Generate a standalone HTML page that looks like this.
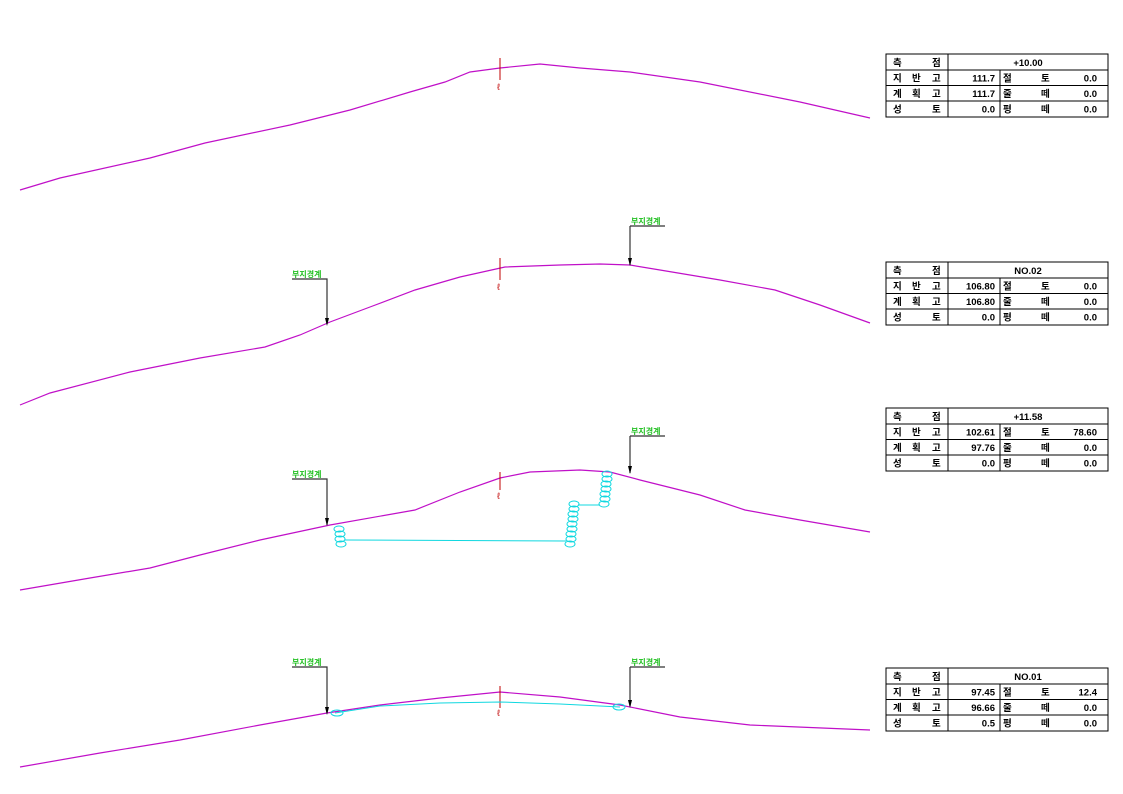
<!DOCTYPE html>
<html><head><meta charset="utf-8"><style>
html,body{margin:0;padding:0;background:#fff}
svg{display:block}
text{font-family:"Liberation Sans","Noto Sans CJK KR",sans-serif}
.t{font-size:9.5px;fill:#000;font-weight:bold}
.g{font-size:8px;fill:#22c022;font-weight:bold}
</style></head><body>
<svg width="1123" height="794" viewBox="0 0 1123 794" xmlns="http://www.w3.org/2000/svg">
<defs>
<g id="tbl">
<rect x="886" y="0" width="222" height="63" fill="#fff" stroke="#000" stroke-width="1"/>
<line x1="886" y1="16" x2="1108" y2="16" stroke="#000"/>
<line x1="886" y1="31.5" x2="1108" y2="31.5" stroke="#000"/>
<line x1="886" y1="47" x2="1108" y2="47" stroke="#000"/>
<line x1="948" y1="0" x2="948" y2="63" stroke="#000"/>
<line x1="1000" y1="16" x2="1000" y2="63" stroke="#000"/>
<text class="t" x="893" y="12">측</text><text class="t" x="932" y="12">점</text>
<text class="t" x="893" y="27.5">지</text><text class="t" x="912" y="27.5">반</text><text class="t" x="932" y="27.5">고</text>
<text class="t" x="893" y="43">계</text><text class="t" x="912" y="43">획</text><text class="t" x="932" y="43">고</text>
<text class="t" x="893" y="58.5">성</text><text class="t" x="932" y="58.5">토</text>
<text class="t" x="1003" y="27.5">절</text><text class="t" x="1041" y="27.5">토</text>
<text class="t" x="1003" y="43">줄</text><text class="t" x="1041" y="43">떼</text>
<text class="t" x="1003" y="58.5">평</text><text class="t" x="1041" y="58.5">떼</text>
</g>
</defs>
<g>
<use href="#tbl" y="54"/>
<text class="t" x="1028" y="66" text-anchor="middle">+10.00</text>
<text class="t" x="995" y="81.5" text-anchor="end">111.7</text><text class="t" x="1097" y="81.5" text-anchor="end">0.0</text>
<text class="t" x="995" y="97" text-anchor="end">111.7</text><text class="t" x="1097" y="97" text-anchor="end">0.0</text>
<text class="t" x="995" y="112.5" text-anchor="end">0.0</text><text class="t" x="1097" y="112.5" text-anchor="end">0.0</text>
</g>
<g>
<use href="#tbl" y="262"/>
<text class="t" x="1028" y="274" text-anchor="middle">NO.02</text>
<text class="t" x="995" y="289.5" text-anchor="end">106.80</text><text class="t" x="1097" y="289.5" text-anchor="end">0.0</text>
<text class="t" x="995" y="305" text-anchor="end">106.80</text><text class="t" x="1097" y="305" text-anchor="end">0.0</text>
<text class="t" x="995" y="320.5" text-anchor="end">0.0</text><text class="t" x="1097" y="320.5" text-anchor="end">0.0</text>
</g>
<g>
<use href="#tbl" y="408"/>
<text class="t" x="1028" y="420" text-anchor="middle">+11.58</text>
<text class="t" x="995" y="435.5" text-anchor="end">102.61</text><text class="t" x="1097" y="435.5" text-anchor="end">78.60</text>
<text class="t" x="995" y="451" text-anchor="end">97.76</text><text class="t" x="1097" y="451" text-anchor="end">0.0</text>
<text class="t" x="995" y="466.5" text-anchor="end">0.0</text><text class="t" x="1097" y="466.5" text-anchor="end">0.0</text>
</g>
<g>
<use href="#tbl" y="668"/>
<text class="t" x="1028" y="680" text-anchor="middle">NO.01</text>
<text class="t" x="995" y="695.5" text-anchor="end">97.45</text><text class="t" x="1097" y="695.5" text-anchor="end">12.4</text>
<text class="t" x="995" y="711" text-anchor="end">96.66</text><text class="t" x="1097" y="711" text-anchor="end">0.0</text>
<text class="t" x="995" y="726.5" text-anchor="end">0.5</text><text class="t" x="1097" y="726.5" text-anchor="end">0.0</text>
</g>

<g fill="none" stroke="#c010c8" stroke-width="1.2">
<polyline points="20,190 60,178 150,158 205,143 290,125 350,110 410,92 445,82 470,72 500,68 540,64 580,68 630,72 700,82 800,102 870,118"/>
<polyline points="20,405 50,393 130,372 200,358 265,347 300,335 330,322 370,307 415,290 460,277 505,267 560,265 600,264 630,265 660,270 720,280 775,290 820,305 870,323"/>
<polyline points="20,590 90,578 150,568 200,555 260,540 330,525 415,510 460,492 500,478 530,472 580,470 610,472 640,480 700,495 745,510 800,520 870,532"/>
<polyline points="20,767 100,753 180,740 260,725 327,713 380,705 440,698 500,692 560,697 620,705 680,717 750,725 870,730"/>
</g>

<g stroke="#c00000" stroke-width="1" fill="none">
<line x1="500" y1="58" x2="500" y2="80"/><text x="497" y="90" font-size="9" fill="#c00000" stroke="none">ℓ</text>
<line x1="500" y1="258" x2="500" y2="280"/><text x="497" y="290" font-size="9" fill="#c00000" stroke="none">ℓ</text>
<line x1="500" y1="472" x2="500" y2="490"/><text x="497" y="499" font-size="9" fill="#c00000" stroke="none">ℓ</text>
<line x1="500" y1="686" x2="500" y2="708"/><text x="497" y="716" font-size="9" fill="#c00000" stroke="none">ℓ</text>
</g>

<g stroke="#333" stroke-width="1.2" fill="none">
<polyline points="292,279 327,279 327,324"/>
<polyline points="630,226 630,265"/><line x1="630" y1="226" x2="665" y2="226"/>
<polyline points="292,479 327,479 327,525"/>
<polyline points="630,436 630,473"/><line x1="630" y1="436" x2="665" y2="436"/>
<polyline points="292,667 327,667 327,713"/>
<polyline points="630,667 630,706"/><line x1="630" y1="667" x2="665" y2="667"/>
</g>
<g fill="#000">
<path d="M325,318 L327,326 L329,318Z"/><path d="M628,258 L630,266 L632,258Z"/>
<path d="M325,518 L327,526 L329,518Z"/><path d="M628,466 L630,474 L632,466Z"/>
<path d="M325,707 L327,715 L329,707Z"/><path d="M628,700 L630,708 L632,700Z"/>
</g>
<text class="g" x="292" y="277">부지경계</text>
<text class="g" x="631" y="224">부지경계</text>
<text class="g" x="292" y="477">부지경계</text>
<text class="g" x="631" y="434">부지경계</text>
<text class="g" x="292" y="665">부지경계</text>
<text class="g" x="631" y="665">부지경계</text>

<g fill="none" stroke="#10d8e0" stroke-width="1">
<line x1="345" y1="540" x2="566" y2="541"/>
<line x1="578" y1="505" x2="600" y2="505"/>
<ellipse cx="339" cy="529" rx="5" ry="3"/><ellipse cx="340" cy="534" rx="5" ry="3"/><ellipse cx="340" cy="539" rx="5" ry="3"/><ellipse cx="341" cy="544" rx="5" ry="3"/>
<ellipse cx="574" cy="504" rx="5" ry="3"/><ellipse cx="574" cy="509" rx="5" ry="3"/><ellipse cx="573" cy="514" rx="5" ry="3"/><ellipse cx="573" cy="519" rx="5" ry="3"/><ellipse cx="572" cy="524" rx="5" ry="3"/><ellipse cx="572" cy="529" rx="5" ry="3"/><ellipse cx="571" cy="534" rx="5" ry="3"/><ellipse cx="571" cy="539" rx="5" ry="3"/><ellipse cx="570" cy="544" rx="5" ry="3"/>
<ellipse cx="607" cy="474" rx="5" ry="3"/><ellipse cx="607" cy="479" rx="5" ry="3"/><ellipse cx="606" cy="484" rx="5" ry="3"/><ellipse cx="606" cy="489" rx="5" ry="3"/><ellipse cx="605" cy="494" rx="5" ry="3"/><ellipse cx="605" cy="499" rx="5" ry="3"/><ellipse cx="604" cy="504" rx="5" ry="3"/>
<polyline points="335,713 380,706 440,703 500,702 560,704 620,707"/>
<ellipse cx="337" cy="713" rx="6" ry="3"/><ellipse cx="619" cy="707" rx="6" ry="3"/>
</g>
</svg>
</body></html>
